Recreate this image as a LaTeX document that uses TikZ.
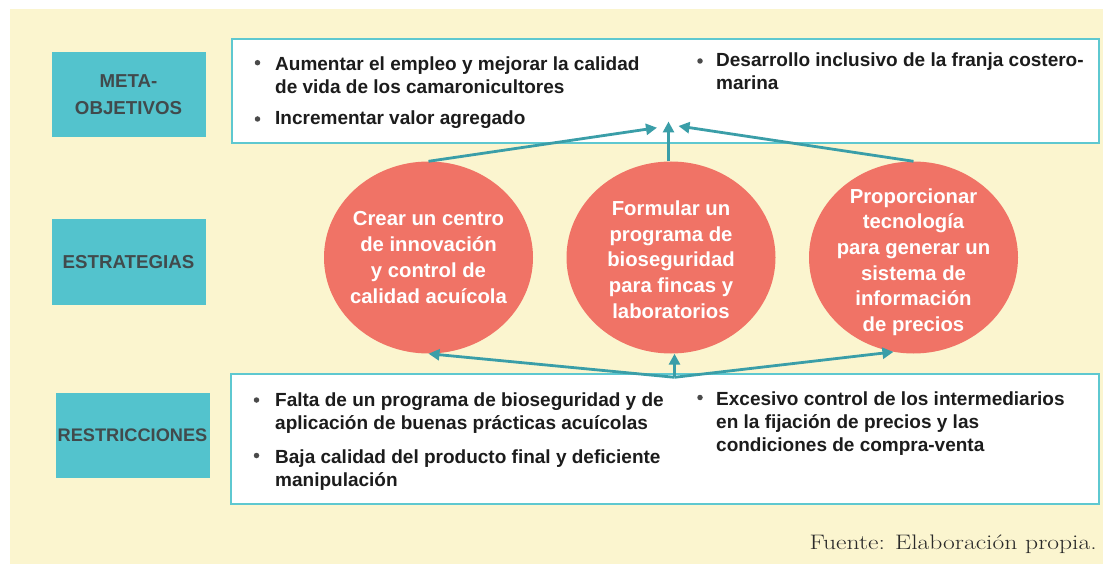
\documentclass[tikz,border=0pt]{standalone}
\usepackage{fontspec}
\setsansfont{Liberation Sans}
\usetikzlibrary{arrows.meta,shapes.geometric}
\definecolor{cream}{HTML}{FBF5CF}
\definecolor{labfill}{HTML}{53C3CD}
\definecolor{labtext}{HTML}{414A4C}
\definecolor{boxline}{HTML}{5EC8D0}
\definecolor{circfill}{HTML}{F07366}
\definecolor{arrowc}{HTML}{3A9EA8}
\definecolor{dotc}{HTML}{4A4A4A}
\definecolor{itemtext}{HTML}{1C1C1C}
\definecolor{srctext}{HTML}{2A2A2A}
\newcommand{\linesstack}[1]{\vtop{\halign{##\hfil\cr#1\crcr}}}
\tikzset{
  lab/.style={fill=labfill, minimum width=154pt, minimum height=85pt, inner sep=0pt,
    align=center, text=labtext, font=\sffamily\bfseries\fontsize{18.7}{27}\selectfont},
  whitebox/.style={draw=boxline, line width=2pt, fill=white, inner sep=0pt},
  item/.style={anchor=base west, inner sep=0pt, text=itemtext,
    font=\sffamily\bfseries\fontsize{19}{23.2}\selectfont},
  bul/.style={circle, fill=dotc, inner sep=0pt, minimum size=5.5pt},
  circ/.style={ellipse, fill=circfill, minimum width=209pt, minimum height=192pt,
    inner xsep=-14pt, inner ysep=-20pt, align=center, text=white,
    font=\sffamily\bfseries\fontsize{20.3}{25.7}\selectfont},
  conn/.style={draw=arrowc, line width=2.8pt, -{Triangle[length=11pt,width=11pt]}},
}
\begin{document}
\begin{tikzpicture}[x=1pt,y=-1pt]
\useasboundingbox (0,0) rectangle (1103,564);
\fill[white] (0,0) rectangle (1103,564);
\fill[cream] (10,9.5) rectangle (1103,564);

% side labels
\node[lab, minimum width=154pt] (meta) at (128.5,94.5) {META-\\OBJETIVOS};
\node[lab] (estr) at (128.5,262) {ESTRATEGIAS};
\node[lab, font=\sffamily\bfseries\fontsize{18.2}{27}\selectfont] (restr) at (132.5,435) {RESTRICCIONES};

% white boxes
\node[whitebox, minimum width=867pt, minimum height=103.4pt] (topbox) at (665,91) {};
\node[whitebox, minimum width=868pt, minimum height=129.7pt] (botbox) at (665,439.2) {};

% top items
\node[bul] (d1) at (257.5,62.7) {};
\node[item] (t1) at (275,70.7) {\linesstack{Aumentar el empleo y mejorar la calidad\cr de vida de los camaronicultores}};
\node[bul] (d2) at (257.5,119) {};
\node[item] (t2) at (275,125) {Incrementar valor agregado};
\node[bul] (d3) at (700,61) {};
\node[item] (t3) at (716,66.7) {\linesstack{Desarrollo inclusivo de la franja costero-\cr marina}};

% bottom items
\node[bul] (d4) at (256.5,400) {};
\node[item] (b1) at (275,406.7) {\linesstack{Falta de un programa de bioseguridad y de\cr aplicación de buenas prácticas acuícolas}};
\node[bul] (d5) at (256.5,455.5) {};
\node[item] (b2) at (275,463.3) {\linesstack{Baja calidad del producto final y deficiente\cr manipulación}};
\node[bul] (d6) at (700,397.5) {};
\node[item] (b3) at (716,405) {\linesstack{Excesivo control de los intermediarios\cr en la fijación de precios y las\cr condiciones de compra-venta}};

% strategy circles
\node[circ] (c1) at (428.5,257.5) {Crear un centro\\de innovación\\y control de\\calidad acuícola};
\node[circ] (c2) at (671,257.5) {\rule{0pt}{19pt}Formular un\\programa de\\bioseguridad\\para fincas y\\laboratorios};
\node[circ] (c3) at (913.5,257.5) {\rule{0pt}{24pt}Proporcionar\\tecnología\\para generar un\\sistema de\\información\\de precios};

% connectors
\coordinate (tipL) at (657,127.7);
\coordinate (tipM) at (668.5,121.5);
\coordinate (tipR) at (678.5,126);
\coordinate (J) at (674.5,377.3);
\draw[conn] (c1.north) -- (tipL);
\draw[conn] (c2.north -| tipM) -- (tipM);
\draw[conn] (c3.north) -- (tipR);
\draw[conn] (J) -- (c1.south);
\draw[conn] (J) -- (J |- c2.south);
\draw[conn] (J) -- (c3.258);

% source
\node[anchor=base east, inner sep=0pt, text=srctext, font=\rmfamily\fontsize{21}{25}\selectfont] (src) at (1097,549.3) {\scalebox{1.22}[1]{Fuente: Elaboración propia.}};
\end{tikzpicture}
\end{document}
